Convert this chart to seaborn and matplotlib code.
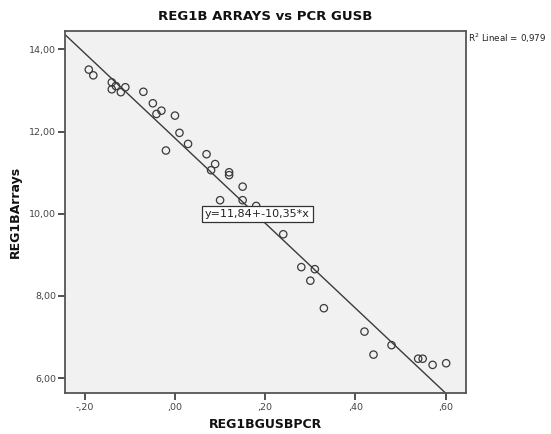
import numpy as np
import pandas as pd
import seaborn as sns
import matplotlib.pyplot as plt

# values (REG1B GUSB PCR vs arrays)
gusb_pcr = [-0.191, -0.181, -0.140, -0.140, -0.131, -0.120, -0.110, -0.070,
            -0.049, -0.041, -0.030, 0.000, 0.010, -0.020, 0.029, 0.070,
            0.089, 0.080, 0.120, 0.120, 0.150, 0.100, 0.150, 0.180,
            0.240, 0.280, 0.310, 0.300, 0.330, 0.420, 0.440, 0.480,
            0.539, 0.549, 0.571, 0.601]
arrays = [13.51, 13.37, 13.20, 13.03, 13.11, 12.96, 13.08, 12.97,
          12.69, 12.43, 12.51, 12.39, 11.97, 11.54, 11.70, 11.45,
          11.21, 11.06, 11.01, 10.94, 10.66, 10.33, 10.33, 10.19,
          9.50, 8.70, 8.65, 8.37, 7.70, 7.13, 6.57, 6.80,
          6.47, 6.47, 6.32, 6.36]

intercept = 11.84
slope = -10.35
r2_text = "0,979"

x_ticks = [-0.2, 0.0, 0.2, 0.4, 0.6]
x_labels = ['-,20', ',00', ',20', ',40', ',60']
y_ticks = [6, 8, 10, 12, 14]
y_labels = ['6,00', '8,00', '10,00', '12,00', '14,00']

data = pd.DataFrame({'REG1BGUSBPCR': gusb_pcr, 'REG1BArrays': arrays})

sns.set_style('white')
plt.rcParams['font.family'] = ['DejaVu Sans']

fig = plt.figure(figsize=(5.51, 4.34), dpi=100)
ax = fig.add_axes([65 / 551, 1 - 393 / 434, (466 - 65) / 551, (393 - 31) / 434])
ax.set_facecolor('#f1f1f1')

sns.scatterplot(ax=ax, data=data, x='REG1BGUSBPCR', y='REG1BArrays',
                marker='o', s=28, facecolor='none', edgecolor='#3a3a3a',
                linewidth=0.9, zorder=3)

xlim = (-0.2437, 0.645)
ylim = (5.635, 14.45)
xs = np.array(xlim)
ax.plot(xs, intercept + slope * xs, color='#3a3a3a', lw=1.0, zorder=2)
ax.set_xlim(*xlim)
ax.set_ylim(*ylim)

ax.text(0.183, 9.99, 'y=11,84+-10,35*x', fontsize=8, ha='center', va='center',
        color='#222222', zorder=4,
        bbox=dict(boxstyle='square,pad=0.25', fc='white', ec='#333333', lw=0.9))

ax.set_xticks(x_ticks)
ax.set_xticklabels(x_labels)
ax.set_yticks(y_ticks)
ax.set_yticklabels(y_labels)
ax.tick_params(axis='both', direction='out', length=5, width=1.2, color='#333333',
               labelsize=6.8, labelcolor='#444444', pad=1.5)
ax.tick_params(axis='x', bottom=True, pad=2.5)
ax.tick_params(axis='y', left=True)

for sp in ax.spines.values():
    sp.set_color('#555555')
    sp.set_linewidth(1.3)
    sp.set_visible(True)

ax.set_xlabel('REG1BGUSBPCR', fontsize=9, fontweight='bold', color='#111111', labelpad=4)
ax.set_ylabel('REG1BArrays', fontsize=9, fontweight='bold', color='#111111', labelpad=5)
ax.set_title('REG1B ARRAYS vs PCR GUSB', fontsize=9.5, fontweight='bold',
             color='#111111', pad=8)

fig.text(468 / 551, 1 - 38 / 434, 'R$^2$ Lineal = ' + r2_text, fontsize=6.3,
         ha='left', va='center', color='#222222')

fig.savefig('out.png', dpi=100)
